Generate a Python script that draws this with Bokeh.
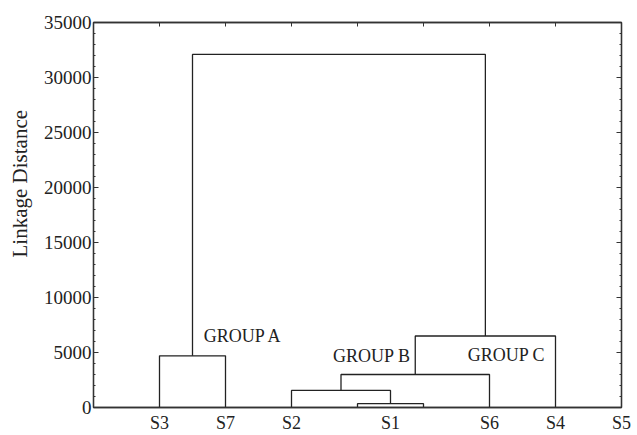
from bokeh.plotting import figure
from bokeh.models import (Range1d, LinearAxis, FixedTicker, SingleIntervalTicker, Label,
                          CustomJSTickFormatter, Title)
from bokeh.embed import file_html
from bokeh.resources import INLINE

# ---- data ----
leaf_labels = ["S3", "S7", "S2", "S1", "S6", "S4", "S5"]
label_ticks = [1, 2, 3, 4.5, 6, 7, 8]
n_leaves = 7
# linkage: cluster ids 0..6 are leaves; each merge creates id 7, 8, ...
merge_a = [3, 2, 8, 0, 9, 10]
merge_b = [4, 7, 5, 1, 6, 11]
merge_dist = [350, 1550, 3000, 4700, 6500, 32100]
group_names = ["GROUP A", "GROUP B", "GROUP C"]
group_x = [1.67, 3.63, 5.67]
group_y = [6500, 4650, 4750]
y_title = "Linkage Distance"

FONT = "Liberation Serif"
INK = "#222222"
FRAME = "#333333"

# compute dendrogram segments from linkage
pos = {i: i + 1 for i in range(n_leaves)}
hgt = {i: 0 for i in range(n_leaves)}
xs, ys = [], []
for k, (a, b, d) in enumerate(zip(merge_a, merge_b, merge_dist)):
    xs.append([pos[a], pos[a], pos[b], pos[b]])
    ys.append([hgt[a], d, d, hgt[b]])
    cid = n_leaves + k
    pos[cid] = (pos[a] + pos[b]) / 2
    hgt[cid] = d

p = figure(width=637, height=435, output_backend="svg", toolbar_location=None,
           x_range=Range1d(0, 8), y_range=Range1d(0, 35000),
           min_border_left=93, min_border_top=22, min_border_right=16, min_border_bottom=24,
           background_fill_color="white", border_fill_color="white")
p.title.visible = False
p.grid.visible = False
p.outline_line_color = FRAME
p.outline_line_width = 1.3

p.multi_line(xs, ys, line_color=INK, line_width=1.3)

for name, gx, gy in zip(group_names, group_x, group_y):
    p.add_layout(Label(x=gx, y=gy, text=name, text_font=FONT, text_font_size="18px",
                       text_color=INK, text_baseline="middle", text_align="left"))

# left axis
ya = p.yaxis[0]
ya.ticker = SingleIntervalTicker(interval=5000, num_minor_ticks=5)
ya.major_label_text_font = FONT
ya.major_label_text_font_size = "19px"
ya.major_label_text_color = INK
ya.major_label_standoff = 2
ya.major_tick_in = 5
ya.major_tick_out = 0
ya.minor_tick_in = 2
ya.minor_tick_out = 0
ya.axis_line_color = FRAME
ya.axis_line_width = 1.3
ya.major_tick_line_color = FRAME
ya.minor_tick_line_color = FRAME

# y-axis title, set a little above the frame centre as in the original
p.add_layout(Title(text=y_title, align="left", offset=150, vertical_align="top", standoff=13,
                   text_font=FONT, text_font_size="21px", text_font_style="normal",
                   text_color=INK), "left")

# bottom axis
xa = p.xaxis[0]
xa.ticker = FixedTicker(ticks=label_ticks)
xa.major_label_overrides = {t: s for t, s in zip(label_ticks, leaf_labels)}
xa.major_label_text_font = FONT
xa.major_label_text_font_size = "18px"
xa.major_label_text_color = INK
xa.major_label_standoff = 5
xa.major_tick_in = 0
xa.major_tick_out = 0
xa.minor_tick_line_color = None
xa.axis_line_color = FRAME
xa.axis_line_width = 1.3

blank = CustomJSTickFormatter(code="return ''")

# top axis (ticks only)
ta = LinearAxis(ticker=FixedTicker(ticks=list(range(1, n_leaves + 1))), formatter=blank,
                major_tick_in=4, major_tick_out=0, minor_tick_line_color=None,
                major_label_standoff=0,
                axis_line_color=FRAME, axis_line_width=1.3,
                major_tick_line_color=FRAME)
p.add_layout(ta, "above")

# right axis (ticks only)
ra = LinearAxis(ticker=SingleIntervalTicker(interval=5000, num_minor_ticks=5), formatter=blank,
                major_tick_in=5, major_tick_out=0, minor_tick_in=2, minor_tick_out=0,
                major_label_standoff=0,
                axis_line_color=FRAME, axis_line_width=1.3,
                major_tick_line_color=FRAME, minor_tick_line_color=FRAME)
p.add_layout(ra, "right")

open("out.html", "w").write(file_html(p, INLINE))
